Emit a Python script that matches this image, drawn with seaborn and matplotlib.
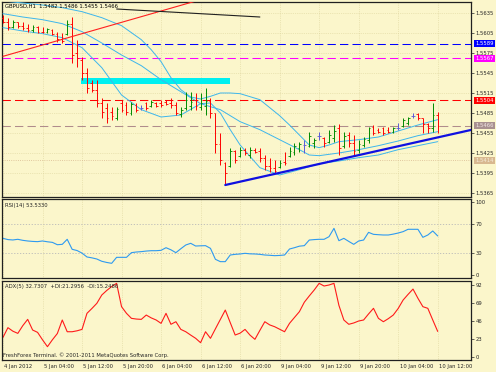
"""GBPUSD H1 chart with Bollinger bands, RSI(14) and ADX(5) panels"""

import matplotlib
matplotlib.use("Agg")
import matplotlib.pyplot as plt
import matplotlib.transforms as mtransforms
import numpy as np
import seaborn as sns

# hourly bars, 4 Jan 2012 20:00 .. 10 Jan 2012 12:00 (weekend skipped)
opens = [1.5628, 1.5622, 1.5614, 1.5622, 1.5616, 1.5613, 1.5609, 1.5614, 1.5607, 1.5606,
         1.5610, 1.5604, 1.5596, 1.5603, 1.5618, 1.5575, 1.5565, 1.5545, 1.5530, 1.5520,
         1.5500, 1.5492, 1.5487, 1.5478, 1.5500, 1.5497, 1.5485, 1.5497, 1.5492, 1.5500,
         1.5495, 1.5500, 1.5500, 1.5502, 1.5500, 1.5497, 1.5483, 1.5492, 1.5495, 1.5505,
         1.5494, 1.5495, 1.5503, 1.5485, 1.5438, 1.5410, 1.5406, 1.5428, 1.5420, 1.5430,
         1.5422, 1.5430, 1.5428, 1.5418, 1.5406, 1.5403, 1.5404, 1.5412, 1.5420, 1.5426,
         1.5432, 1.5437, 1.5436, 1.5440, 1.5450, 1.5447, 1.5442, 1.5448, 1.5462, 1.5435,
         1.5452, 1.5440, 1.5430, 1.5437, 1.5444, 1.5464, 1.5460, 1.5462, 1.5460, 1.5456,
         1.5463, 1.5465, 1.5470, 1.5481, 1.5483, 1.5477, 1.5468, 1.5462, 1.5482]
highs = [1.5632, 1.5628, 1.5625, 1.5622, 1.5621, 1.5618, 1.5617, 1.5616, 1.5614, 1.5613,
         1.5611, 1.5607, 1.5605, 1.5625, 1.5629, 1.5595, 1.5569, 1.5553, 1.5535, 1.5535,
         1.5508, 1.5500, 1.5494, 1.5494, 1.5505, 1.5502, 1.5502, 1.5500, 1.5497, 1.5502,
         1.5505, 1.5502, 1.5505, 1.5504, 1.5508, 1.5502, 1.5494, 1.5517, 1.5517, 1.5515,
         1.5515, 1.5523, 1.5508, 1.5485, 1.5455, 1.5412, 1.5433, 1.5430, 1.5434, 1.5433,
         1.5434, 1.5433, 1.5433, 1.5422, 1.5418, 1.5415, 1.5415, 1.5427, 1.5434, 1.5440,
         1.5442, 1.5445, 1.5457, 1.5448, 1.5457, 1.5449, 1.5460, 1.5467, 1.5468, 1.5457,
         1.5457, 1.5452, 1.5445, 1.5449, 1.5464, 1.5467, 1.5462, 1.5464, 1.5464, 1.5464,
         1.5470, 1.5478, 1.5479, 1.5485, 1.5485, 1.5478, 1.5470, 1.5500, 1.5486]
lows = [1.5620, 1.5610, 1.5613, 1.5613, 1.5610, 1.5607, 1.5607, 1.5605, 1.5605, 1.5605,
        1.5602, 1.5592, 1.5590, 1.5602, 1.5560, 1.5554, 1.5535, 1.5515, 1.5517, 1.5494,
        1.5478, 1.5470, 1.5475, 1.5475, 1.5487, 1.5482, 1.5482, 1.5487, 1.5490, 1.5490,
        1.5494, 1.5494, 1.5494, 1.5497, 1.5493, 1.5482, 1.5479, 1.5490, 1.5490, 1.5490,
        1.5490, 1.5482, 1.5478, 1.5425, 1.5407, 1.5377, 1.5404, 1.5410, 1.5419, 1.5422,
        1.5418, 1.5425, 1.5412, 1.5400, 1.5397, 1.5395, 1.5403, 1.5407, 1.5419, 1.5422,
        1.5427, 1.5425, 1.5434, 1.5433, 1.5445, 1.5434, 1.5440, 1.5442, 1.5422, 1.5433,
        1.5434, 1.5422, 1.5425, 1.5434, 1.5440, 1.5452, 1.5455, 1.5452, 1.5455, 1.5455,
        1.5460, 1.5464, 1.5467, 1.5478, 1.5475, 1.5455, 1.5455, 1.5457, 1.5455]
closes = [1.5622, 1.5614, 1.5622, 1.5616, 1.5612, 1.5609, 1.5614, 1.5607, 1.5606, 1.5611,
          1.5604, 1.5596, 1.5593, 1.5618, 1.5572, 1.5568, 1.5545, 1.5522, 1.5520, 1.5500,
          1.5487, 1.5478, 1.5480, 1.5491, 1.5490, 1.5487, 1.5498, 1.5490, 1.5492, 1.5492,
          1.5502, 1.5496, 1.5497, 1.5498, 1.5497, 1.5485, 1.5490, 1.5505, 1.5502, 1.5495,
          1.5500, 1.5503, 1.5485, 1.5438, 1.5415, 1.5395, 1.5428, 1.5415, 1.5430, 1.5425,
          1.5430, 1.5427, 1.5418, 1.5405, 1.5402, 1.5398, 1.5410, 1.5410, 1.5428, 1.5435,
          1.5438, 1.5437, 1.5450, 1.5445, 1.5450, 1.5440, 1.5452, 1.5458, 1.5432, 1.5450,
          1.5440, 1.5428, 1.5438, 1.5446, 1.5462, 1.5455, 1.5457, 1.5455, 1.5457, 1.5462,
          1.5463, 1.5474, 1.5477, 1.5481, 1.5478, 1.5468, 1.5462, 1.5482, 1.5466]

# Bollinger bands (bar index -> price)
upper_idx = [0, 4, 8, 12, 16, 20, 24, 28, 30, 32, 34, 36, 38, 40, 42, 44, 46, 48,
             52, 54, 56, 58, 60, 62, 64, 66, 68, 72, 76, 80, 84, 88]
upper_band = [1.5653, 1.5650, 1.5647, 1.5643, 1.5637, 1.5628, 1.5616, 1.5595, 1.5580,
              1.5562, 1.5538, 1.5520, 1.5509, 1.5506, 1.5510, 1.5515, 1.5515, 1.5514,
              1.5505, 1.5493, 1.5481, 1.5467, 1.5452, 1.5437, 1.5433, 1.5437, 1.5442,
              1.5445, 1.5449, 1.5458, 1.5467, 1.5475]
middle_idx = [0, 4, 8, 12, 16, 20, 24, 28, 32, 36, 40, 44, 48, 52, 56, 60, 62, 64,
              68, 72, 76, 80, 84, 88]
middle_band = [1.5634, 1.5629, 1.5625, 1.5619, 1.5607, 1.5590, 1.5572, 1.5556, 1.5535,
               1.5517, 1.5499, 1.5490, 1.5472, 1.5460, 1.5445, 1.5430, 1.5422, 1.5421,
               1.5425, 1.5430, 1.5436, 1.5443, 1.5451, 1.5457]
lower_idx = [0, 4, 8, 12, 16, 20, 24, 28, 32, 36, 40, 42, 44, 46, 48, 52, 56, 60,
             64, 68, 72, 76, 80, 84, 88]
lower_band = [1.5613, 1.5608, 1.5604, 1.5598, 1.5583, 1.5553, 1.5512, 1.5490, 1.5479,
              1.5482, 1.5499, 1.5500, 1.5485, 1.5460, 1.5437, 1.5403, 1.5392, 1.5400,
              1.5409, 1.5413, 1.5418, 1.5422, 1.5430, 1.5436, 1.5442]

rsi = [50.2, 48.5, 48.0, 48.9, 47.5, 46.6, 46.0, 45.7, 46.6, 45.5,
       44.7, 41.5, 42.0, 48.9, 35.2, 33.5, 30.0, 24.7, 23.5, 21.9,
       18.8, 17.2, 16.0, 24.2, 24.2, 24.2, 30.6, 31.5, 32.0, 32.8,
       33.3, 33.3, 33.8, 37.4, 34.5, 30.6, 36.0, 41.1, 43.4, 39.7,
       40.0, 40.2, 36.5, 21.5, 18.3, 18.3, 27.4, 28.3, 28.8, 29.7,
       29.0, 28.8, 28.3, 27.4, 27.0, 26.5, 26.8, 27.4, 35.6, 37.4,
       39.5, 40.2, 47.9, 48.5, 48.9, 48.9, 52.5, 63.9, 47.0, 50.2,
       46.0, 42.0, 46.6, 47.9, 58.4, 55.7, 55.2, 54.8, 54.8, 56.0,
       57.5, 59.4, 62.6, 62.6, 62.6, 51.6, 54.8, 60.3, 53.5]
adx = [25.1, 37.5, 33.0, 30.2, 40.0, 48.1, 34.5, 31.5, 22.0, 13.2,
       22.0, 30.0, 47.3, 32.3, 32.3, 33.5, 35.3, 55.8, 62.0, 68.6,
       79.2, 85.0, 90.0, 94.1, 64.3, 55.8, 49.4, 48.5, 48.1, 53.6,
       50.0, 47.3, 43.0, 55.8, 41.8, 45.1, 35.3, 32.3, 28.0, 23.9,
       18.3, 32.3, 23.9, 36.0, 48.0, 60.0, 44.0, 28.1, 30.5, 35.3,
       28.0, 22.6, 34.0, 45.1, 41.0, 38.7, 35.5, 32.3, 43.0, 50.5,
       57.9, 70.0, 78.0, 85.6, 94.1, 90.7, 92.0, 94.1, 66.0, 47.3,
       41.8, 43.5, 46.0, 47.3, 55.0, 62.2, 49.4, 45.1, 49.0, 53.6,
       62.0, 72.8, 80.0, 86.8, 75.0, 64.3, 62.2, 47.3, 32.7]

time_labels = ["4 Jan 2012", "5 Jan 04:00", "5 Jan 12:00", "5 Jan 20:00",
               "6 Jan 04:00", "6 Jan 12:00", "6 Jan 20:00", "9 Jan 04:00",
               "9 Jan 12:00", "9 Jan 20:00", "10 Jan 04:00", "10 Jan 12:00"]
price_ticks = [1.5365, 1.5395, 1.5425, 1.5455, 1.5485, 1.5515, 1.5545, 1.5575, 1.5605, 1.5635]

# drawn objects
levels = {1.5589: "#0000FF", 1.5567: "#FF00FF", 1.5504: "#FF0000", 1.5466: "#B08C8C"}
level_dotted = 1.5414
zone_x = [15.8, 46]
zone_low, zone_high = 1.5529, 1.5538
red_trend = ([0, 40], [1.5570, 1.5655])
black_trend = ([23, 52], [1.5641, 1.5629])
blue_trend = ([45, 95], [1.5377, 1.5460])

BG = "#FBF6CB"
GRID = "#DCD39B"
FS = 3.8

sns.set_style("white")
plt.rcParams["font.family"] = ["DejaVu Sans"]

fig = plt.figure(figsize=(4.96, 3.72), dpi=100, facecolor=BG)
W, H = 496, 372


def panel(top, bottom, left=2, right=471):
    return fig.add_axes([left / W, 1 - bottom / H, (right - left) / W, (bottom - top) / H])


ax = panel(2, 197)
ax_rsi = panel(199, 278)
ax_adx = panel(281, 360)

x = np.arange(len(closes))
xticks = np.arange(0, len(closes) + 1, 8)

for a in (ax, ax_rsi, ax_adx):
    a.set_facecolor(BG)
    a.set_xlim(-0.2, 94.74)
    a.set_xticks(xticks)
    a.grid(True, axis="x", color=GRID, ls=":", lw=0.5)
    for s in a.spines.values():
        s.set_color("#202020")
        s.set_linewidth(0.9)
    a.yaxis.tick_right()
    a.tick_params(axis="y", labelsize=FS, length=2, width=0.5, pad=1.5,
                  right=True, left=False, labelright=True, labelleft=False)
    a.tick_params(axis="x", length=0, labelbottom=False)

# ---- main price panel ----
ax.set_ylim(1.5359, 1.56515)
ax.set_yticks(price_ticks)
ax.set_yticklabels([f"{p:.4f}" for p in price_ticks])
ax.grid(True, axis="y", color=GRID, ls=":", lw=0.5)

for p, col in levels.items():
    ax.axhline(p, color=col, ls=(0, (8, 4)), lw=0.75, zorder=2)
ax.axhline(level_dotted, color="#D8B890", ls=":", lw=0.6, zorder=2)

ax.fill_between(zone_x, zone_low, zone_high, color="#00F0F0", lw=0, zorder=2)

band_col = "#3DB6EC"
sns.lineplot(x=upper_idx, y=upper_band, ax=ax, color=band_col, lw=0.7, zorder=3)
sns.lineplot(x=middle_idx, y=middle_band, ax=ax, color=band_col, lw=0.7, zorder=3)
sns.lineplot(x=lower_idx, y=lower_band, ax=ax, color=band_col, lw=0.7, zorder=3)

o, h, l, c = (np.array(v) for v in (opens, highs, lows, closes))
bar_cols = np.where(c > o, "#008A00", np.where(c < o, "#FF0000", "#5A5AD8"))
ax.vlines(x, l, h, colors=bar_cols, lw=0.7, zorder=4)
ax.hlines(o, x - 0.35, x, colors=bar_cols, lw=0.6, zorder=4)
ax.hlines(c, x, x + 0.35, colors=bar_cols, lw=0.6, zorder=4)

ax.plot(*red_trend, color="#FF2020", lw=0.8, zorder=5)
ax.plot(*black_trend, color="#202020", lw=0.8, zorder=5)
ax.plot(*blue_trend, color="#1010E0", lw=1.6, zorder=5)

ax.set_xlabel("")
ax.set_ylabel("")

# boxed level labels on the price scale
boxes = [(1.5589, "#0000FF", "white"), (1.5567, "#FF00FF", "white"),
         (1.5504, "#FF0000", "white"), (1.5466, "#A89090", "#F2E6E6"),
         (1.5414, "#D8B890", "#F6ECD8")]
btr = mtransforms.blended_transform_factory(ax.transAxes, ax.transData)
for p, fc, tc in boxes:
    ax.text(1.0085, p, f"{p:.4f}", transform=btr, fontsize=FS, color=tc,
            va="center", ha="left", zorder=6, clip_on=False,
            bbox=dict(boxstyle="square,pad=0.25", fc=fc, ec="none"))

ax.text(0.0065, 0.979, "GBPUSD,H1  1.5482 1.5486 1.5455 1.5466", transform=ax.transAxes,
        fontsize=FS, va="center", ha="left", color="black", zorder=7)

# ---- RSI panel ----
ax_rsi.set_ylim(-4.1, 104.1)
ax_rsi.set_yticks([0, 30, 70, 100])
for lvl in (30, 70):
    ax_rsi.axhline(lvl, color="#B8B8B8", ls=(0, (1.5, 2)), lw=0.6)
sns.lineplot(x=x, y=rsi, ax=ax_rsi, color="#2E9AF0", lw=0.8)
ax_rsi.set_xlabel("")
ax_rsi.set_ylabel("")
ax_rsi.text(0.0065, 0.92, "RSI(14) 53.5330", transform=ax_rsi.transAxes,
            fontsize=FS, va="center", ha="left")

# ---- ADX panel ----
ax_adx.set_ylim(-3.8, 97.1)
ax_adx.set_yticks([0, 23, 46, 69, 92])
sns.lineplot(x=x, y=adx, ax=ax_adx, color="#FF1A1A", lw=0.8)
ax_adx.set_xlabel("")
ax_adx.set_ylabel("")
ax_adx.text(0.0065, 0.935, "ADX(5) 32.7307  +DI:21.2956  -DI:15.2486",
            transform=ax_adx.transAxes, fontsize=FS, va="center", ha="left")
ax_adx.text(0.003, 0.06, "FreshForex Terminal. \u00a9 2001-2011 MetaQuotes Software Corp.",
            transform=ax_adx.transAxes, fontsize=FS, va="center", ha="left")

ax_adx.tick_params(axis="x", length=2, width=0.5, pad=1, labelsize=FS, labelbottom=True)
ax_adx.set_xticklabels(time_labels)
shift = mtransforms.ScaledTranslation(1 / 72, 0, fig.dpi_scale_trans)
for lab in ax_adx.get_xticklabels():
    lab.set_horizontalalignment("left")
    lab.set_transform(lab.get_transform() + shift)

fig.savefig("out.png", dpi=100, facecolor=BG)
